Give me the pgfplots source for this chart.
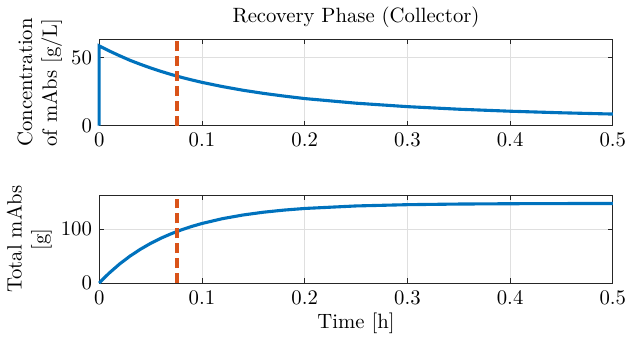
\documentclass[border=0pt]{standalone}
\usepackage{pgfplots}
\pgfplotsset{compat=1.18}
\definecolor{mblue}{rgb}{0,0.447,0.741}
\definecolor{morange}{rgb}{0.85,0.325,0.098}
\definecolor{axgray}{rgb}{0.15,0.15,0.15}
\definecolor{gridgray}{rgb}{0.875,0.875,0.875}
\pgfplotsset{myax/.style={
  scale only axis, width=248pt,
  xmin=0, xmax=0.5,
  xtick={0,0.1,0.2,0.3,0.4,0.5},
  xticklabels={0,0.1,0.2,0.3,0.4,0.5},
  tick align=inside, major tick length=2.4pt,
  axis line style={axgray, line width=0.4pt},
  tick style={axgray, line width=0.4pt},
  grid=major, grid style={gridgray, line width=0.4pt},
  ylabel style={align=center, yshift=-2.5pt},
  xlabel style={yshift=3pt},
  title style={yshift=-4pt},
  axis on top=false,
  clip=false,
}}
\pgfplotstableread{
t M
0 0
0.005 9.81
0.01 18.96
0.02 35.47
0.03 49.86
0.04 62.40
0.05 73.32
0.06 82.84
0.07 91.13
0.08 98.35
0.09 104.65
0.1 110.15
0.12 119.09
0.14 125.88
0.16 131.04
0.18 134.96
0.2 137.93
0.25 142.59
0.3 144.94
0.35 146.11
0.4 146.70
0.45 147.0
0.5 147.15
}\total
\pgfplotstableread{
t C
0 0
0 58.6
0.005 56.7
0.01 54.8
0.02 51.3
0.03 48.0
0.04 45.1
0.05 42.4
0.06 39.9
0.07 37.6
0.08 35.5
0.09 33.6
0.1 31.8
0.12 28.7
0.14 26.0
0.16 23.7
0.18 21.7
0.2 19.9
0.25 16.5
0.3 13.96
0.35 12.07
0.4 10.60
0.45 9.44
0.5 8.51
}\conc
\begin{document}
\begin{tikzpicture}
\begin{axis}[myax, name=bot, at={(0,0)}, height=42.3pt,
  ymin=0, ymax=162, ytick={0,100},
  xlabel={Time [h]},
  ylabel={Total mAbs\\{}[g]}]
\addplot[mblue, line width=1.5pt] table[x=t,y=M] {\total};
\addplot[morange, line width=1.5pt, dash pattern=on 4.8pt off 2.4pt] coordinates {(0.0757,0) (0.0757,162)};
\end{axis}
\begin{axis}[myax, at={(0,76pt)}, height=41.8pt,
  ymin=0, ymax=63.6, ytick={0,50},
  title={Recovery Phase (Collector)},
  ylabel={Concentration\\of mAbs [g/L]}]
\addplot[mblue, line width=1.5pt] table[x=t,y=C] {\conc};
\addplot[morange, line width=1.5pt, dash pattern=on 4.8pt off 2.4pt] coordinates {(0.0757,0) (0.0757,63.6)};
\end{axis}
\end{tikzpicture}
\end{document}
